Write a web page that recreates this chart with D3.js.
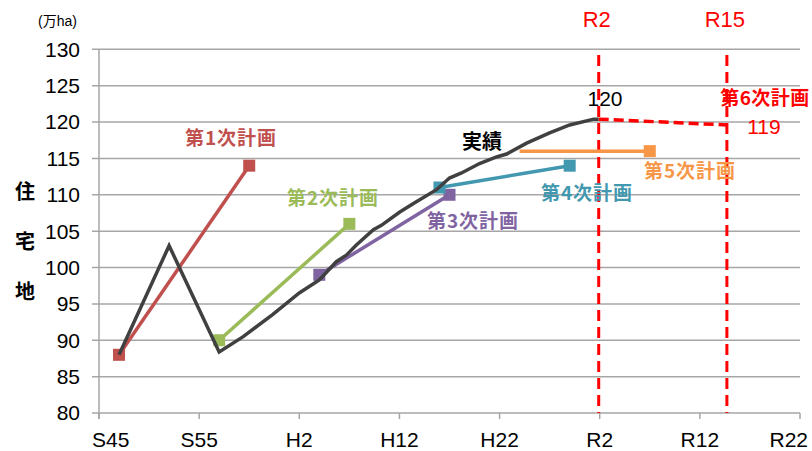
<!DOCTYPE html>
<html><head><meta charset="utf-8">
<script src="https://cdn.jsdelivr.net/npm/d3@7"></script>
<style>
html,body{margin:0;padding:0;background:#fff;}
svg{display:block;font-family:"Liberation Sans",Arial,sans-serif;}
.jp{font-family:"Noto Sans CJK JP","Noto Sans",sans-serif;}
</style></head>
<body><svg id="c" width="812" height="451"></svg>
<script>
// ---- data ----
const tickYears = [1970, 1980, 1990, 2000, 2010, 2020, 2030, 2040];
const tickLabels = ["S45", "S55", "H2", "H12", "H22", "R2", "R12", "R22"];
const yTicks = [80, 85, 90, 95, 100, 105, 110, 115, 120, 125, 130];

const actualYears = [1972, 1977, 1982, 1984.4, 1987.3, 1990, 1992, 1993.7, 1994.7, 1995.7, 1997.4, 1998.2, 2000, 2001.4, 2003.7, 2005, 2006.2, 2008, 2009.7, 2010.7, 2012.7, 2015, 2017, 2019.4, 2019.9];
const actualValues = [88, 103, 88.4, 90.5, 93.5, 96.5, 98.3, 100.8, 101.7, 103.1, 105.2, 105.8, 107.6, 108.8, 110.7, 112.3, 113.0, 114.3, 115.2, 115.6, 117.1, 118.5, 119.6, 120.4, 120.4];

const planNames = ["第1次計画", "第2次計画", "第3次計画", "第4次計画", "第5次計画"];
const planStartYears = [1972, 1982, 1992, 2004, 2012];
const planStartValues = [88, 90, 99, 111, 116];
const planEndYears = [1985, 1995, 2005, 2017, 2025];
const planEndValues = [114, 106, 110, 114, 116];
const planStartMarker = [true, true, true, true, false];

const plan6Years = [2019.9, 2032.7];
const plan6Values = [120.4, 119.6];
const valueLabels = ["120", "119"];
const refLineYears = [2019.9, 2032.7];
const refLineLabels = ["R2", "R15"];

// ---- styles ----
const planColors = ["#C0504D", "#9BBB59", "#8064A2", "#4198AF", "#F79646"];
const labelPos = [[231, 138], [333, 198], [473, 221], [587, 193], [690, 171]];

const svg = d3.select("#c");
const x = d3.scaleLinear().domain([1970, 2040]).range([99, 800]);
const y = d3.scaleLinear().domain([80, 130]).range([413, 49.3]);
const grid = "#A6A6A6";

// gridlines
svg.append("g").selectAll("line").data(yTicks).join("line")
  .attr("x1", 92).attr("x2", 800)
  .attr("y1", d => y(d)).attr("y2", d => y(d))
  .attr("stroke", grid).attr("stroke-width", 1.5);
// y axis line
svg.append("line").attr("x1", 99).attr("x2", 99).attr("y1", y(130)).attr("y2", 419)
  .attr("stroke", grid).attr("stroke-width", 1.5);
// x ticks
svg.append("g").selectAll("line").data(tickYears).join("line")
  .attr("x1", d => x(d)).attr("x2", d => x(d)).attr("y1", 413).attr("y2", 419)
  .attr("stroke", grid).attr("stroke-width", 1.5);
// y labels
svg.append("g").selectAll("text").data(yTicks).join("text")
  .attr("x", 80).attr("y", d => y(d)).attr("dy", "0.35em")
  .attr("text-anchor", "end").attr("font-size", 21).attr("fill", "#000")
  .text(d => d);
// x labels
svg.append("g").selectAll("text").data(tickYears).join("text")
  .attr("x", (d, i) => i === 0 ? 92 : (i === tickYears.length - 1 ? 808 : x(d)))
  .attr("y", 440).attr("dy", "0.35em")
  .attr("text-anchor", (d, i) => i === 0 ? "start" : (i === tickYears.length - 1 ? "end" : "middle"))
  .attr("font-size", 21).attr("fill", "#000")
  .text((d, i) => tickLabels[i]);

// unit
const u = svg.append("text").attr("x", 38).attr("y", 21).attr("dy", "0.35em").attr("font-size", 14);
u.append("tspan").text("(");
u.append("tspan").attr("class", "jp").text("万");
u.append("tspan").text("ha)");
// y title
const yt = ["住", "宅", "地"];
svg.append("g").selectAll("text").data(yt).join("text").attr("class", "jp")
  .attr("x", 25).attr("y", (d, i) => 192 + i * 50).attr("dy", "0.35em")
  .attr("text-anchor", "middle").attr("font-size", 20).attr("font-weight", "bold")
  .text(d => d);

// reference dashed vertical lines
svg.append("g").selectAll("line").data(refLineYears).join("line")
  .attr("x1", d => x(d)).attr("x2", d => x(d)).attr("y1", 55).attr("y2", 413)
  .attr("stroke", "#FF0000").attr("stroke-width", 3).attr("stroke-dasharray", "11,6");
svg.append("g").selectAll("text").data(refLineYears).join("text")
  .attr("x", d => x(d) - 2).attr("y", 19).attr("dy", "0.35em")
  .attr("text-anchor", "middle").attr("font-size", 22).attr("fill", "#FF0000")
  .text((d, i) => refLineLabels[i]);

// plan lines
const ms = 12;
planNames.forEach((n, i) => {
  const c = planColors[i];
  svg.append("line")
    .attr("x1", x(planStartYears[i])).attr("y1", y(planStartValues[i]))
    .attr("x2", x(planEndYears[i])).attr("y2", y(planEndValues[i]))
    .attr("stroke", c).attr("stroke-width", 3.5);
  const pts = [[planEndYears[i], planEndValues[i]]];
  if (planStartMarker[i]) pts.push([planStartYears[i], planStartValues[i]]);
  pts.forEach(p => {
    svg.append("rect").attr("x", x(p[0]) - ms / 2).attr("y", y(p[1]) - ms / 2)
      .attr("width", ms).attr("height", ms).attr("fill", c);
  });
});

// actual line
svg.append("path")
  .datum(actualYears.map((yr, i) => [yr, actualValues[i]]))
  .attr("d", d3.line().x(d => x(d[0])).y(d => y(d[1])))
  .attr("fill", "none").attr("stroke", "#404040").attr("stroke-width", 3.5)
  .attr("stroke-linejoin", "miter");

// plan 6 dashed
svg.append("path")
  .datum(plan6Years.map((yr, i) => [yr, plan6Values[i]]))
  .attr("d", d3.line().x(d => x(d[0])).y(d => y(d[1])))
  .attr("fill", "none").attr("stroke", "#FF0000").attr("stroke-width", 3.5)
  .attr("stroke-dasharray", "10,5");

// plan labels
planNames.forEach((n, i) => {
  svg.append("text").attr("class", "jp")
    .attr("x", labelPos[i][0]).attr("y", labelPos[i][1]).attr("dy", "0.35em")
    .attr("text-anchor", "middle").attr("font-size", 19).attr("font-weight", "bold")
    .attr("fill", planColors[i]).attr("letter-spacing", 1).text(n);
});
svg.append("text").attr("class", "jp").attr("x", 765).attr("y", 98).attr("dy", "0.35em")
  .attr("text-anchor", "middle").attr("font-size", 19).attr("font-weight", "bold")
  .attr("fill", "#FF0000").attr("letter-spacing", 0.5).text("第6次計画");
svg.append("text").attr("class", "jp").attr("x", 482).attr("y", 142).attr("dy", "0.35em")
  .attr("text-anchor", "middle").attr("font-size", 20).attr("font-weight", "bold")
  .attr("fill", "#000").text("実績");
svg.append("text").attr("x", 605).attr("y", 99).attr("dy", "0.35em")
  .attr("text-anchor", "middle").attr("font-size", 21).attr("fill", "#000")
  .text(valueLabels[0]);
svg.append("text").attr("x", 764).attr("y", 127).attr("dy", "0.35em")
  .attr("text-anchor", "middle").attr("font-size", 21).attr("fill", "#FF0000")
  .text(valueLabels[1]);
</script></body></html>
